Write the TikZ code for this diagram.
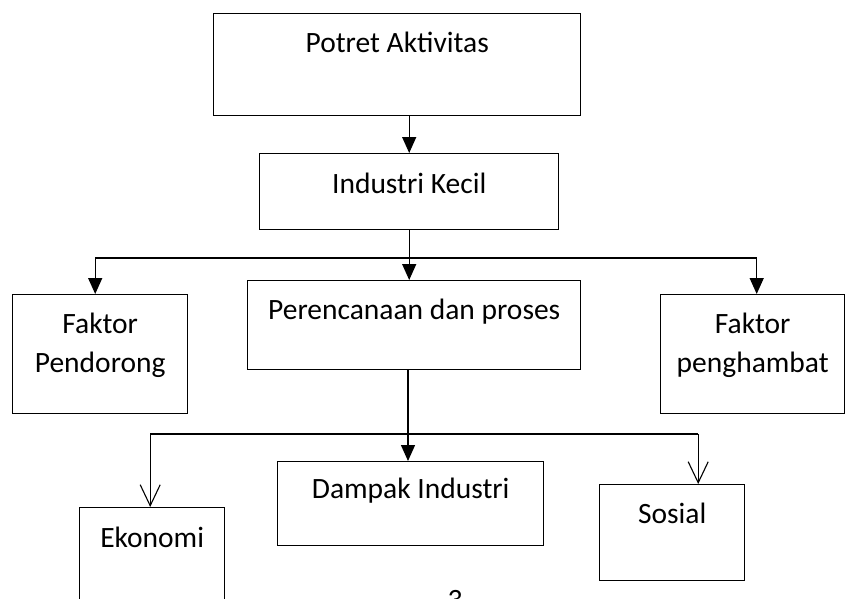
\documentclass[tikz,border=0pt]{standalone}
\usepackage{fontspec}
\setmainfont{Carlito}
\usetikzlibrary{arrows.meta,positioning}
\begin{document}
\begin{tikzpicture}[x=1pt,y=-1pt]
        \tikzstyle{box_style} = [draw=black,line width=1.4pt,rectangle,inner sep=0pt,anchor=north west]
        \tikzstyle{text_style} = [inner sep=0pt,align=center,anchor=base,font=\fontsize{29.5pt}{39pt}\selectfont]
        \tikzstyle{arrow_style} = [line width=1.4pt,-{Triangle[length=16pt,width=14pt]}]
        \tikzstyle{open_arrow_style} = [line width=1.1pt,-{Straight Barb[length=21pt,width=20pt]}]
        \clip (0,0) rectangle (845,598);
        \useasboundingbox (0,0) rectangle (845,598);
        \node[box_style,minimum width=367pt,minimum height=102pt] (potret) at (213,13) {};
        \node[box_style,minimum width=299pt,minimum height=76pt] (industri) at (259,153) {};
        \node[box_style,minimum width=175pt,minimum height=119pt] (pendorong) at (12,294) {};
        \node[box_style,minimum width=333pt,minimum height=89pt] (perencanaan) at (247,280) {};
        \node[box_style,minimum width=184pt,minimum height=119pt] (penghambat) at (660,294) {};
        \node[box_style,minimum width=266pt,minimum height=84pt] (dampak) at (277,461) {};
        \node[box_style,minimum width=145pt,minimum height=133pt] (ekonomi) at (79,507) {};
        \node[box_style,minimum width=145pt,minimum height=96pt] (sosial) at (599,484) {};
        \node[text_style] (potret_text) at ([yshift=-39pt]potret.north) {Potret Aktivitas};
        \node[text_style] (industri_text) at ([yshift=-40pt]industri.north) {Industri Kecil};
        \node[text_style] (pendorong_text) at ([yshift=-78pt]pendorong.north) {Faktor\\Pendorong};
        \node[text_style] (perencanaan_text) at ([yshift=-39pt]perencanaan.north) {Perencanaan dan proses};
        \node[text_style] (penghambat_text) at ([yshift=-78pt]penghambat.north) {Faktor\\penghambat};
        \node[text_style] (dampak_text) at ([yshift=-37pt]dampak.north) {Dampak Industri};
        \node[text_style] (ekonomi_text) at ([yshift=-40pt]ekonomi.north) {Ekonomi};
        \node[text_style] (sosial_text) at ([yshift=-39pt]sosial.north) {Sosial};
        \node[text_style] (halaman) at (455,609) {3};
        \coordinate (cabang_atas) at (408,258);
        \coordinate (cabang_bawah) at (408,434);
        \draw[arrow_style] (industri.north |- potret.south) -- (industri.north);
        \draw[line width=1.4pt] ([xshift=-5pt]pendorong.north |- cabang_atas) -- ([xshift=4pt]penghambat.north |- cabang_atas);
        \draw[arrow_style] ([xshift=-5pt]pendorong.north |- cabang_atas) -- ([xshift=-5pt]pendorong.north);
        \draw[arrow_style] (industri.south) -- (industri.south |- perencanaan.north);
        \draw[arrow_style] ([xshift=4pt]penghambat.north |- cabang_atas) -- ([xshift=4pt]penghambat.north);
        \draw[arrow_style] (cabang_bawah |- perencanaan.south) -- (cabang_bawah |- dampak.north);
        \draw[line width=1.1pt] ([xshift=-2pt]ekonomi.north |- cabang_bawah) -- ([xshift=26pt]sosial.north |- cabang_bawah);
        \draw[open_arrow_style] ([xshift=-2pt]ekonomi.north |- cabang_bawah) -- ([xshift=-2pt]ekonomi.north);
        \draw[open_arrow_style] ([xshift=26pt]sosial.north |- cabang_bawah) -- ([xshift=26pt]sosial.north);
      \end{tikzpicture}
\end{document}
